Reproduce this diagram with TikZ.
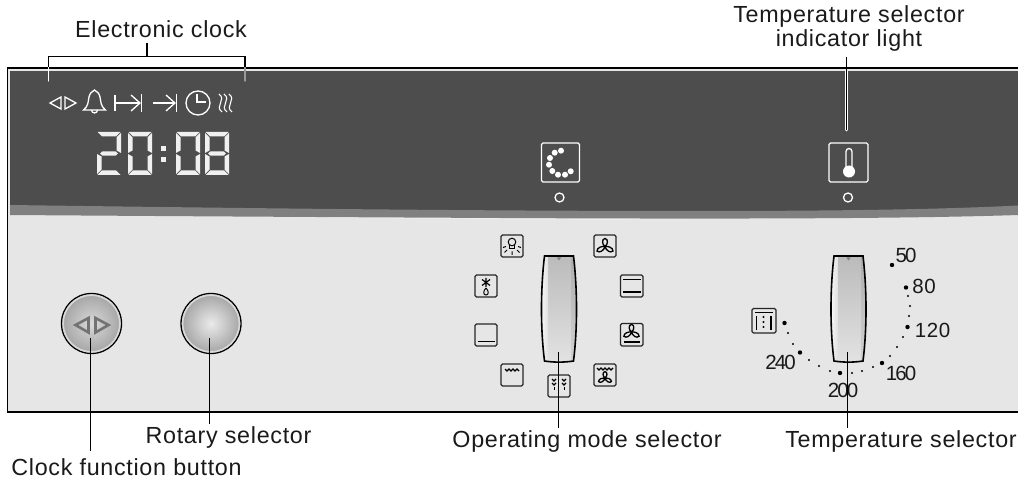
\documentclass[tikz,border=0pt]{standalone}
\usepackage{fontspec}
\setmainfont[LetterSpace=3]{Liberation Sans}
\newfontfamily\numfont[LetterSpace=-9]{Liberation Sans}
\usetikzlibrary{calc}
\definecolor{paneldark}{HTML}{4D4D4D}
\definecolor{panellight}{HTML}{E6E6E6}
\definecolor{bandgray}{HTML}{808080}
\definecolor{inktext}{HTML}{1A1A1A}
\tikzset{
  lbl/.style={font=\fontsize{23.3}{23.5}\selectfont,text=inktext,inner sep=0pt,align=center},
  numlbl/.style={font=\numfont\fontsize{20.5}{22}\selectfont,text=inktext,inner sep=0pt},
  numwide/.style={font=\fontsize{20.5}{22}\selectfont,text=inktext,inner sep=0pt},
  leader/.style={draw=black,line width=1.1pt},
  halo/.style={draw=white,line width=2.6pt,line cap=round},
  legdark/.style={line width=1.4pt,line cap=round},
  wsym/.style={draw=white,line width=1.3pt,fill=none},
  iconbox/.style={draw=black!85,line width=1.1pt,rounded corners=1.5pt,fill=panellight},
  isym/.style={draw=black,line width=1pt},
  bigdot/.style={circle,fill=black,inner sep=0pt,minimum size=4.4pt},
  smalldot/.style={circle,fill=black,inner sep=0pt,minimum size=2.4pt},
}
\colorlet{segcol}{white!94!black}
\newcommand{\segA}[2]{\fill[segcol] (#1+.5,#2) -- (#1+23.5,#2) -- (#1+19,#2+4.5) -- (#1+5,#2+4.5) -- cycle;}
\newcommand{\segG}[2]{\fill[segcol] (#1+.5,#2+43) -- (#1+23.5,#2+43) -- (#1+19,#2+38.5) -- (#1+5,#2+38.5) -- cycle;}
\newcommand{\segD}[2]{\fill[segcol] (#1+3,#2+21.5) -- (#1+5.5,#2+19.3) -- (#1+18.5,#2+19.3) -- (#1+21,#2+21.5) -- (#1+18.5,#2+23.7) -- (#1+5.5,#2+23.7) -- cycle;}
\newcommand{\segTL}[2]{\fill[segcol] (#1,#2+.8) -- (#1+4.5,#2+5.3) -- (#1+4.5,#2+18.5) -- (#1,#2+21) -- cycle;}
\newcommand{\segTR}[2]{\fill[segcol] (#1+24,#2+.8) -- (#1+19.5,#2+5.3) -- (#1+19.5,#2+18.5) -- (#1+24,#2+21) -- cycle;}
\newcommand{\segBL}[2]{\fill[segcol] (#1,#2+42.2) -- (#1+4.5,#2+37.7) -- (#1+4.5,#2+24.5) -- (#1,#2+22) -- cycle;}
\newcommand{\segBR}[2]{\fill[segcol] (#1+24,#2+42.2) -- (#1+19.5,#2+37.7) -- (#1+19.5,#2+24.5) -- (#1+24,#2+22) -- cycle;}
\newcommand{\digitZero}[2]{\segA{#1}{#2}\segG{#1}{#2}\segTL{#1}{#2}\segTR{#1}{#2}\segBL{#1}{#2}\segBR{#1}{#2}}
\newcommand{\digitEight}[2]{\digitZero{#1}{#2}\segD{#1}{#2}}
\newcommand{\digitTwo}[2]{\segA{#1}{#2}\segG{#1}{#2}\segD{#1}{#2}\segTR{#1}{#2}\segBL{#1}{#2}}
\newcommand{\knobpath}[1]{(#1-14.5,256) -- (#1+14.5,256) .. controls (#1+18,285) and (#1+19,325) .. (#1+14.5,361)
    .. controls (#1+5,362.5) and (#1-5,362.5) .. (#1-14.5,361)
    .. controls (#1-19,325) and (#1-18,285) .. (#1-14.5,256) -- cycle}
\newcommand{\knob}[1]{%
  \begin{scope}
    \clip \knobpath{#1};
    \shade[top color=black!27,bottom color=black!11] (#1-20,254) rectangle (#1+20,364);
    \shade[left color=white,right color=white!88!black] (#1-20,254) rectangle (#1-11,364);
    \fill[black,opacity=.07] (#1+12,254) rectangle (#1+20,364);
  \end{scope}
  \draw[black,line width=1.6pt] \knobpath{#1};
  \fill[black!50] (#1-2.2,257.5) -- (#1+2.2,257.5) -- (#1,260.5) -- cycle;
}
\newcommand{\fanicon}[3]{%
  \begin{scope}[shift={(#1,#2)},scale=#3]
    \draw[black,line width=1.3pt] (0,0) .. controls (-3,-2) and (-3.5,-7.5) .. (0,-8) .. controls (3.5,-7.5) and (3,-2) .. (0,0)
      .. controls (3,-.5) and (8,1) .. (8,4.5) .. controls (5.5,7) and (1,4) .. (0,0)
      .. controls (-1,4) and (-5.5,7) .. (-8,4.5) .. controls (-8,1) and (-3,-.5) .. (0,0);
  \end{scope}}
\begin{document}
\begin{tikzpicture}[x=1pt,y=-1pt]
\useasboundingbox (0,0) rectangle (1018,481);
\fill[white] (0,0) rectangle (1018,481);
% panel
\fill[panellight] (8,69) rectangle (1018,411);
\fill[white!93!black] (10,212) .. controls (300,218) and (700,226) .. (1018,212) -- (1018,206) -- (10,206) -- cycle;
\fill[paneldark] (10,71) rectangle (1018,212);
\fill[bandgray] (10,205) .. controls (300,209) and (500,211) .. (700,211) .. controls (850,211) and (950,209) .. (1018,205.5)
  -- (1018,215) .. controls (900,219) and (700,219) .. (500,218) .. controls (300,217) and (150,216) .. (10,215) -- cycle;
\draw[black,line width=1.2pt] (1018,68) -- (7.5,68) -- (7.5,412) -- (1018,412);

% clock icons
\draw[wsym,line join=miter] (50,103) -- (61,97) -- (61,109) -- cycle;
\draw[wsym,line join=miter] (76,103) -- (65,97) -- (65,109) -- cycle;
\draw[wsym] (83.5,110) .. controls (88.5,106) and (88,102) .. (89,97) .. controls (90,93) and (91.5,92) .. (94.5,90)
  .. controls (97.5,92) and (99,93) .. (100,97) .. controls (101,102) and (100.5,106) .. (105.5,110) -- cycle;
\draw[wsym] (91.5,110) arc[start angle=180,end angle=0,radius=3] ;
\draw[wsym] (115,95) -- (115,111);
\draw[wsym] (115,103) -- (140,103);
\draw[wsym] (131,95) -- (140,103) -- (131,111);
\draw[wsym] (141.5,94) -- (141.5,112);
\draw[wsym] (153,103) -- (175,103);
\draw[wsym] (166,95) -- (175,103) -- (166,111);
\draw[wsym] (176.5,94) -- (176.5,112);
\draw[wsym] (198,103) circle[radius=12];
\draw[wsym] (197,94) -- (197,102) -- (206,102);
\foreach \hx in {219,224,229}
  \draw[wsym,line width=1.1pt] (\hx,94) .. controls (\hx+8,100) and (\hx-5,106) .. (\hx+3,112);
% digits
\digitTwo{97}{132}
\digitZero{128}{132}
\fill[segcol] (161,146) rectangle (166,151);
\fill[segcol] (161,157) rectangle (166,162);
\digitZero{176}{132}
\digitEight{205}{132}

% indicator boxes
\draw[draw=white,line width=1.3pt,rounded corners=1.5pt] (541.5,143) rectangle (579.5,182);
\foreach \dx/\dy in {561/150.7,554.7/152.7,550/158,549/164.7,552.3/171,558/174.7,565/174.7,570.7/171.3}
  \fill[white] (\dx,\dy) circle[radius=3];
\draw[white,line width=1.3pt] (559.5,197.5) circle[radius=4.5];
\draw[draw=white,line width=1.3pt,rounded corners=1.5pt] (829,143) rectangle (868,182);
\draw[white,line width=1.3pt] (846,168) -- (846,151.5) arc[start angle=180,end angle=360,radius=3] -- (852,168);
\fill[white] (849,171.5) circle[radius=6];
\draw[white,line width=1.3pt] (848,197.5) circle[radius=4.5];

% buttons
\shade[inner color=black!15,outer color=black!35] (91.5,323.5) circle[radius=29];
\draw[black,line width=1.3pt,fill=none] (91.5,323.5) circle[radius=30];
\draw[white!85!black,line width=1.5pt] (91.5,323.5) circle[radius=28.3];
\draw[black!55,line width=2.6pt,line join=miter] (75.5,325) -- (88.5,318) -- (88.5,332.5) -- cycle;
\draw[black!55,line width=2.6pt,line join=miter] (108.5,325) -- (95.5,318) -- (95.5,332.5) -- cycle;
\shade[inner color=black!8,outer color=black!35] (211,323.5) circle[radius=29];
\draw[black,line width=1.3pt,fill=none] (211,323.5) circle[radius=30];
\draw[white!85!black,line width=1.5pt] (211,323.5) circle[radius=28.3];

% knobs
\knob{559}
\knob{848.5}

% mode icons
\draw[iconbox] (501,235) rectangle (523,257);
\draw[isym] (512,242) circle[radius=3.8];
\draw[isym] (509.5,245) -- (509.5,249) -- (514.5,249) -- (514.5,245);
\draw[isym] (512,251.5) -- (512,255) (507,250) -- (504.5,252.5) (517,250) -- (519.5,252.5) (506,246.5) -- (503,247.5) (518,246.5) -- (521,247.5);
\draw[iconbox] (594,235) rectangle (616,257);
\fanicon{605}{246.5}{1}
\draw[iconbox] (620.5,275) rectangle (643,297);
\draw[black,line width=1.3pt] (623,279.5) -- (641,279.5) (623,292) -- (641,292);
\draw[iconbox] (475,275) rectangle (497,297);
\draw[black,line width=1.2pt] (486,278) -- (486,287) (482,279.5) -- (490,285.5) (490,279.5) -- (482,285.5);
\draw[isym] (486,288) .. controls (483,291) and (483,295) .. (486,295) .. controls (489,295) and (489,291) .. (486,288);
\draw[iconbox] (475,324) rectangle (497,346);
\draw[black,line width=1.3pt] (477.5,341.5) -- (495,341.5);
\draw[iconbox] (620.5,323.5) rectangle (643,346);
\fanicon{631.5}{332}{.95}
\draw[black,line width=1.4pt] (624,342) -- (640,342);
\draw[iconbox] (501,364) rectangle (523,386);
\draw[black,line width=1.4pt] (505,369) -- (507,371) -- (509,369) -- (511,371) -- (513,369) -- (515,371) -- (517,369) -- (519,371);
\draw[iconbox] (594,364) rectangle (616,386);
\draw[black,line width=1.3pt] (597,368) -- (599,370) -- (601,368) -- (603,370) -- (605,368) -- (607,370) -- (609,368) -- (611,370) -- (613,368);
\fanicon{605}{378}{.8}
\draw[iconbox] (548,375) rectangle (570,397);
\draw[black,line width=1.2pt] (552,379) -- (554,381) -- (556,379) (552,383) -- (554,385) -- (556,383) (562,379) -- (564,381) -- (566,379) (562,383) -- (564,385) -- (566,383);
\draw[isym] (554,387) -- (554,390) (564,387) -- (564,390);

% temperature scale
\draw[iconbox,line width=1.3pt] (752,308.5) rectangle (776,333);
\draw[black,line width=1.1pt] (755,312.5) -- (773,312.5) (756.5,316) -- (756.5,330) (771,316) -- (771,330);
\foreach \dy in {317,322,327} \fill[black] (763.5,\dy) circle[radius=1.2];
\foreach \px/\py/\pn in {892/265/a,906/287.5/b,907.5/327/c,882/363/d,840/373/e,800/352.5/f,784.5/323/g}
  \node[bigdot] (big\pn) at (\px,\py) {};
\foreach \px/\py [count=\pi] in {908/296,910/306,909/316,903/337,897/347,890/356,873/367,862/371,852/373,830/371,819/366,809/360,793/344,788/333}
  \node[smalldot] (small\pi) at (\px,\py) {};
\node[numlbl] (n50) at (906,255.5) {50};
\node[numwide] (n80) at (924,286) {80};
\node[numwide] (n120) at (932.5,330) {120};
\node[numlbl] (n160) at (901,373) {160};
\node[numlbl] (n200) at (843,390) {200};
\node[numlbl] (n240) at (780.5,362) {240};

% labels
\node[lbl] (lclock) at (161,29) {Electronic clock};
\node[lbl] (ltemplight) at (849,28.5) {Temperature selector\\indicator light};
\node[lbl] (lrotary) at (228.5,437) {Rotary selector};
\node[lbl] (lbutton) at (126.5,467) {Clock function button};
\node[lbl] (lmode) at (587,441) {Operating mode selector};
\node[lbl] (ltemp) at (901,441) {Temperature selector};

% connector end points
\coordinate (clockstem) at (147,56.5);
\coordinate (clockL) at (48.5,56.5);
\coordinate (clockR) at (245,56.5);
\coordinate (clockLtop) at (48.5,67.5);
\coordinate (clockRtop) at (245,67.5);
\coordinate (clockLend) at (48.5,81);
\coordinate (clockRend) at (245,81);
\coordinate (stemtop) at (147,43);
\coordinate (lightA) at (846.7,57);
\coordinate (lightB) at (846.7,130);
\coordinate (lightH) at (846.7,71);
\coordinate (btnA) at (90.5,338);
\coordinate (btnB) at (90.5,451);
\coordinate (rotA) at (209.5,338);
\coordinate (rotB) at (209.5,424);
\coordinate (modeA) at (558.7,352);
\coordinate (modeB) at (558.7,428);
\coordinate (tempA) at (847.3,352);
\coordinate (tempB) at (847.3,428);

\draw[legdark,draw=white] (clockLtop) -- (clockLend);
\draw[legdark,draw=black!40] (clockRtop) -- (clockRend);
\draw[halo] (lightH) -- (lightB);
\draw[leader] (stemtop) -- (clockstem);
\draw[leader] (clockLtop) -- (clockL) -- (clockR) -- (clockRtop);
\draw[leader] (lightA) -- (lightB);
\draw[leader] (btnA) -- (btnB);
\draw[leader] (rotA) -- (rotB);
\draw[leader] (modeA) -- (modeB);
\draw[leader] (tempA) -- (tempB);
\end{tikzpicture}
\end{document}
